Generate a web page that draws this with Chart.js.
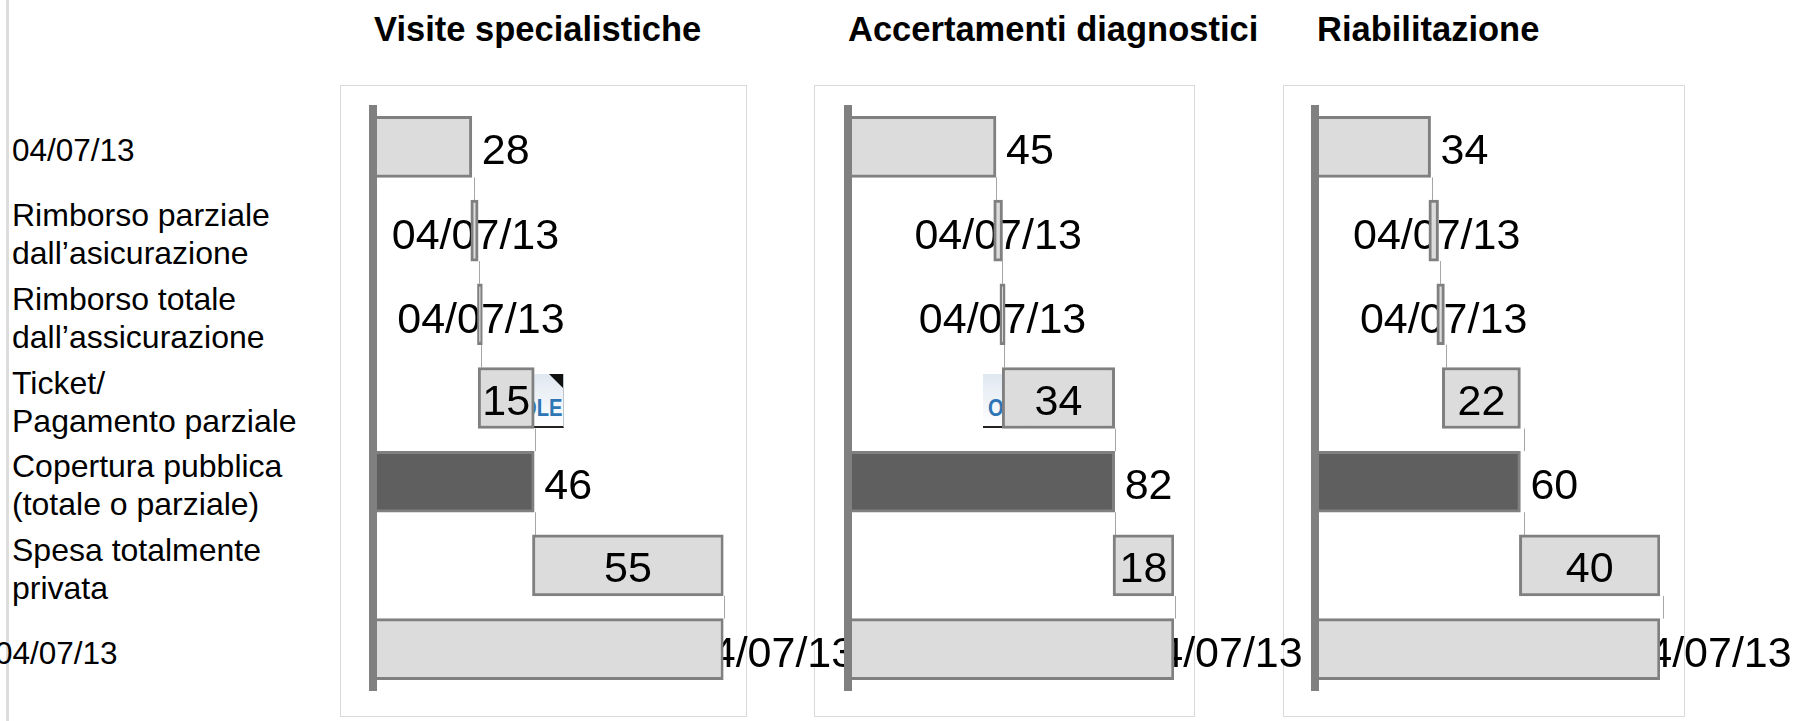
<!DOCTYPE html>
<html>
<head>
<meta charset="utf-8">
<title>Visite, accertamenti, riabilitazione</title>
<script src="https://cdn.jsdelivr.net/npm/chart.js@4/dist/chart.umd.min.js"></script>
<style>
    html, body { margin: 0; padding: 0; background: #fff; overflow: hidden; }
    #stage { position: relative; width: 1818px; height: 721px; overflow: hidden; font-family: "Liberation Sans", Arial, sans-serif; color: #000; }
    #stage canvas { position: absolute; left: 0; top: 0; }
    .strip { position: absolute; left: 6px; top: 0; width: 3px; height: 721px; background: #dddddd; }
    .title { position: absolute; top: 9px; font-size: 34.5px; font-weight: bold; line-height: 40px; white-space: nowrap; }
    .box { position: absolute; box-sizing: border-box; top: 85px; height: 632px; border: 1px solid #d9d9d9; }
    .rowLabel { position: absolute; font-size: 32px; line-height: 38px; white-space: pre; transform: translateY(-50%); }
    .ole { position: absolute; box-sizing: border-box; top: 374px; width: 48px; height: 54px; overflow: hidden;
           background: linear-gradient(#dfe8f1, #ffffff); border-bottom: 2px solid #222; border-right: 1px solid #bcc4cc; }
    .ole .fold { position: absolute; right: 0; top: 0; width: 0; height: 0; border-top: 14px solid #111; border-left: 14px solid transparent; }
    .ole .txt { position: absolute; left: 5px; top: 22px; font-size: 24px; line-height: 24px; font-weight: bold; color: #2e75b6; transform: scaleX(0.84); transform-origin: left top; }
</style>
</head>
<body>
<div id="stage"></div>
<script>
// rows, top to bottom
const rowLabels = [
    '04/07/13',
    'Rimborso parziale\ndall\u2019asicurazione',
    'Rimborso totale\ndall\u2019assicurazione',
    'Ticket/\nPagamento parziale',
    'Copertura pubblica\n(totale o parziale)',
    'Spesa totalmente\nprivata',
    '04/07/13'
];

const panelTitles = ['Visite specialistiche', 'Accertamenti diagnostici', 'Riabilitazione'];

// bar starts and ends
const visiteStart = [0, 27.9, 29.8, 30, 0, 45.5, 0];
const visiteEnd = [28.2, 30, 31.2, 46, 46, 100, 100];
const visiteText = ['28', '04/07/13', '04/07/13', '15', '46', '55', '04/07/13'];
const visiteLinks = [28.7, 30.3, 30.7, 46.1, 46.1, 100];

const accertStart = [0, 44.7, 46.6, 47.3, 0, 81.3, 0];
const accertEnd = [45.4, 47.4, 48.2, 81.8, 81.8, 100, 100];
const accertText = ['45', '04/07/13', '04/07/13', '34', '82', '18', '04/07/13'];
const accertLinks = [45.3, 47.1, 47.7, 81.8, 81.8, 100.2];

const riabStart = [0, 33.1, 35.4, 37, 0, 59.3, 0];
const riabEnd = [33.6, 35.9, 37.6, 59.6, 59.6, 100, 100];
const riabText = ['34', '04/07/13', '04/07/13', '22', '60', '40', '04/07/13'];
const riabLinks = [34.1, 36.4, 38.2, 60.5, 60.5, 101];

// where each panel sits on the page
const panels = [
    { start: visiteStart, end: visiteEnd, text: visiteText, links: visiteLinks, axisX: 373, fullX: 723.5, titleX: 374, boxX: 340, boxW: 407, oleX: 516, underShift: 1, beyondGap: 48 },
    { start: accertStart, end: accertEnd, text: accertText, links: accertLinks, axisX: 848, fullX: 1174, titleX: 848, boxX: 814, boxW: 381, oleX: 983, underShift: 0, beyondGap: 45 },
    { start: riabStart, end: riabEnd, text: riabText, links: riabLinks, axisX: 1314.5, fullX: 1660, titleX: 1317, boxX: 1283, boxW: 402, oleX: null, underShift: 3, beyondGap: 48 }
];

const stage = document.querySelector('#stage');
const W = 1818, H = 721;
const plotTop = 105, plotBottom = 691;
const barHeight = 61;
const axisWidth = 8;
const labelFont = '43px "Liberation Sans", Arial, sans-serif';
// how the value sits against its bar, row by row
const labelPlace = ['outside', 'under', 'under', 'inside', 'outside', 'inside', 'beyond'];

function addDiv(cls, css, text) {
    let d = document.createElement('div');
    d.className = cls;
    d.style.cssText = css;
    if (text) d.textContent = text;
    stage.appendChild(d);
    return d;
}

function drawLabels(chart, p, places) {
    const ctx = chart.ctx;
    const xs = chart.scales.x, ys = chart.scales.y;
    ctx.save();
    ctx.font = labelFont;
    ctx.fillStyle = '#000';
    ctx.textBaseline = 'middle';
    p.text.forEach((t, i) => {
        const place = labelPlace[i];
        if (!places.includes(place)) return;
        let y = ys.getPixelForValue(i) + 5;
        if (place == 'outside') {
            ctx.textAlign = 'left';
            ctx.fillText(t, xs.getPixelForValue(p.end[i]) + 10, y);
        } else if (place == 'beyond') {
            ctx.textAlign = 'center';
            ctx.fillText(t, xs.getPixelForValue(p.end[i]) + p.beyondGap, y + 1);
        } else if (place == 'under') {
            ctx.textAlign = 'center';
            ctx.fillText(t, xs.getPixelForValue((p.start[i] + p.end[i]) / 2) + p.underShift, y + 2);
        } else {
            ctx.textAlign = 'center';
            ctx.fillText(t, xs.getPixelForValue((p.start[i] + p.end[i]) / 2), y);
        }
    });
    ctx.restore();
}

function panelPlugin(p) {
    return {
        id: 'waterfallBits',
        beforeDatasetsDraw(chart) {
            const ctx = chart.ctx;
            const xs = chart.scales.x, ys = chart.scales.y;
            // thin lines joining each step to the next
            ctx.save();
            ctx.strokeStyle = '#a6a6a6';
            ctx.lineWidth = 1;
            p.links.forEach((v, i) => {
                let x = Math.round(xs.getPixelForValue(v)) + 0.5;
                ctx.beginPath();
                ctx.moveTo(x, ys.getPixelForValue(i) + barHeight / 2);
                ctx.lineTo(x, ys.getPixelForValue(i + 1) - barHeight / 2);
                ctx.stroke();
            });
            ctx.restore();
            drawLabels(chart, p, ['outside', 'under', 'beyond']);
        },
        afterDatasetsDraw(chart) {
            const ctx = chart.ctx;
            const area = chart.chartArea;
            // category axis line, sits over the bar starts
            ctx.save();
            ctx.fillStyle = '#808080';
            ctx.fillRect(Math.round(area.left - axisWidth / 2), area.top, axisWidth, area.bottom - area.top);
            ctx.restore();
            drawLabels(chart, p, ['inside']);
        }
    };
}

// left strip, row labels and the panel frames go in first, everything else stacks on top
addDiv('strip', '');
rowLabels.forEach((t, i) => {
    let rowY = plotTop + (i + 0.5) * (plotBottom - plotTop) / rowLabels.length + 3.5;
    let isDate = t == '04/07/13';
    let left = i == 6 ? -5 : 12;
    addDiv('rowLabel', `left:${left}px;top:${rowY}px;` + (isDate ? 'font-size:31.5px;' : ''), t);
});
panels.forEach((p, i) => {
    addDiv('title', `left:${p.titleX}px;`, panelTitles[i]);
    addDiv('box', `left:${p.boxX}px;width:${p.boxW}px;`);
});

panels.forEach((p) => {
    // embedded object placeholder that pokes out behind the ticket bar
    if (p.oleX !== null) {
        let ole = addDiv('ole', `left:${p.oleX}px;`);
        ole.innerHTML = '<div class="fold"></div><div class="txt">OLE</div>';
    }

    let canvas = document.createElement('canvas');
    canvas.width = W;
    canvas.height = H;
    stage.appendChild(canvas);

    let bars = p.start.map((s, i) => [s, p.end[i]]);
    new Chart(canvas, {
        type: 'bar',
        plugins: [panelPlugin(p)],
        data: {
            labels: rowLabels,
            datasets: [{
                data: bars,
                barThickness: barHeight,
                backgroundColor: rowLabels.map((l, i) => i == 4 ? '#5f5f5f' : '#dcdcdc'),
                borderColor: '#808080',
                borderWidth: 3,
                borderSkipped: false
            }]
        },
        options: {
            indexAxis: 'y',
            responsive: false,
            animation: false,
            layout: {
                padding: { left: p.axisX, right: W - p.fullX, top: plotTop, bottom: H - plotBottom }
            },
            plugins: { legend: { display: false }, tooltip: { enabled: false } },
            scales: {
                x: { type: 'linear', min: 0, max: 100, display: false },
                y: {
                    grid: { display: false, drawTicks: false },
                    ticks: { display: false },
                    border: { display: false }
                }
            }
        }
    });
});
</script>
</body>
</html>
